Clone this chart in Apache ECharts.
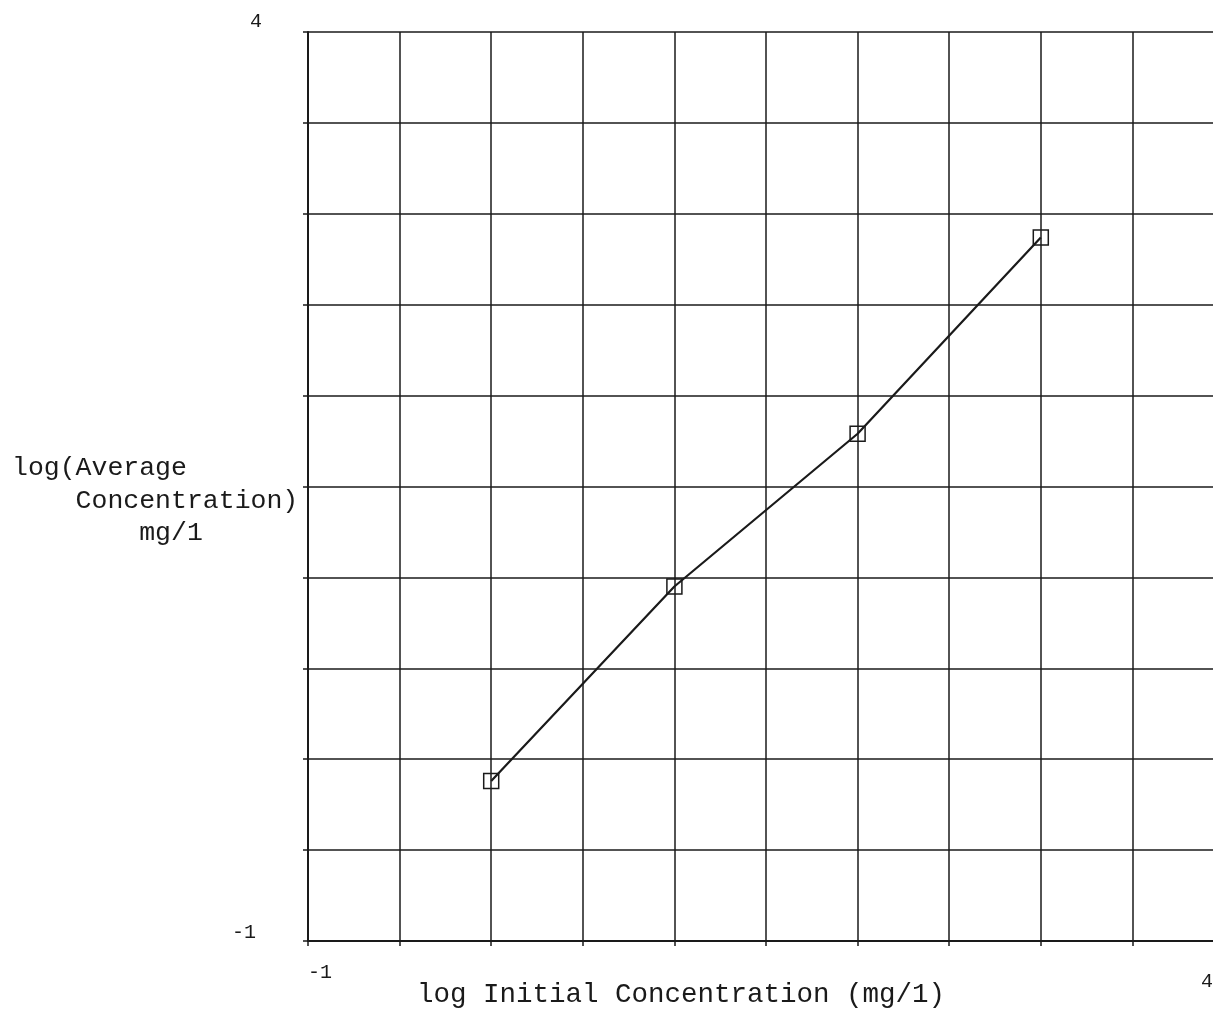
<!DOCTYPE html>
<html>
<head>
<meta charset="utf-8">
<script src="https://cdn.jsdelivr.net/npm/echarts@6/dist/echarts.min.js"></script>
<style>
  html, body { margin: 0; padding: 0; background: #fff; }
  #chart { width: 1213px; height: 1011px; }
</style>
</head>
<body>
<div id="chart"></div>
<script>
// log initial concentration (x) vs log average concentration (y), both in mg/l
const logInitial = [0, 1, 2, 3];
const logAverage = [-0.12, 0.95, 1.79, 2.87];
const axisMin = -1;
const axisMax = 4;
const axisStep = 0.5;
const xTitle = 'log Initial Concentration (mg/1)';
const yTitle = 'log(Average\n    Concentration)\n        mg/1';

const FONT = '"Liberation Mono", "DejaVu Sans Mono", monospace';
const INK = '#1a1a1a';

const points = logInitial.map((x, i) => [x, logAverage[i]]);

const chart = echarts.init(document.getElementById('chart'), null, { renderer: 'canvas' });

chart.setOption({
  animation: false,
  backgroundColor: '#ffffff',
  // y-axis caption, set as a left-aligned three-line block
  title: {
    text: yTitle,
    left: 12,
    top: 452,
    padding: 0,
    textStyle: {
      fontFamily: FONT, fontSize: 26.5, fontWeight: 'normal',
      color: INK, lineHeight: 32.5
    }
  },
  grid: {
    left: 308, top: 32, width: 916, height: 909,
    containLabel: false, outerBoundsMode: 'none'
  },
  xAxis: {
    type: 'value',
    min: axisMin,
    max: axisMax,
    interval: axisStep,
    name: xTitle,
    nameLocation: 'middle',
    nameGap: 54,
    nameMoveOverlap: false,
    nameTextStyle: {
      fontFamily: FONT, fontSize: 27.5, color: INK,
      verticalAlign: 'middle', padding: [0, 170, 0, 0]
    },
    axisLine: { show: true, onZero: false, lineStyle: { color: INK, width: 2 } },
    axisTick: { show: true, length: 5, lineStyle: { color: INK, width: 1.5 } },
    splitLine: { show: true, lineStyle: { color: INK, width: 1.5 } },
    axisLabel: {
      margin: 8,
      formatter: v => v === axisMin ? '{lo|-1}' : (v === axisMax ? '{hi|4}' : ''),
      showMinLabel: true,
      showMaxLabel: true,
      rich: {
        lo: { fontFamily: FONT, fontSize: 20, color: INK, padding: [14, 0, 0, 24] },
        hi: { fontFamily: FONT, fontSize: 20, color: INK, padding: [23, 34, 0, 0] }
      }
    }
  },
  yAxis: {
    type: 'value',
    min: axisMin,
    max: axisMax,
    interval: axisStep,
    axisLine: { show: true, onZero: false, lineStyle: { color: INK, width: 2 } },
    axisTick: { show: true, length: 5, lineStyle: { color: INK, width: 1.5 } },
    splitLine: { show: true, lineStyle: { color: INK, width: 1.5 } },
    axisLabel: {
      margin: 44,
      formatter: v => v === axisMin ? '{lo|-1}' : (v === axisMax ? '{hi|4}' : ''),
      showMinLabel: true,
      showMaxLabel: true,
      rich: {
        lo: { fontFamily: FONT, fontSize: 20, color: INK, padding: [0, 8, 16, 0] },
        hi: { fontFamily: FONT, fontSize: 20, color: INK, padding: [0, 2, 20, 0] }
      }
    }
  },
  series: [{
    type: 'line',
    data: points,
    symbol: 'rect',
    symbolSize: 15,
    showAllSymbol: true,
    lineStyle: { color: INK, width: 2.2 },
    itemStyle: { color: 'rgba(255,255,255,0)', borderColor: INK, borderWidth: 1.5 },
    z: 5
  }]
});
</script>
</body>
</html>
